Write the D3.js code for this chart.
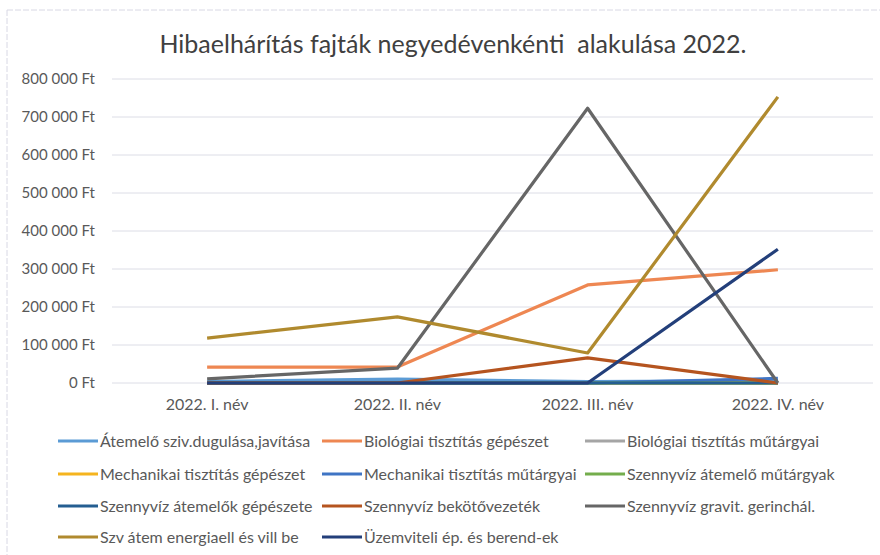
<!DOCTYPE html>
<html><head><meta charset="utf-8">
<script src="https://cdn.jsdelivr.net/npm/d3@7"></script>
<style>body{margin:0;background:#fff}svg{display:block}</style>
</head><body>
<svg id="c" width="880" height="555"></svg>
<script>
const title = "Hibaelhárítás fajták negyedévenkénti  alakulása 2022.";
const categories = ["2022. I. név","2022. II. név","2022. III. név","2022. IV. név"];
const yTicks = [0,100000,200000,300000,400000,500000,600000,700000,800000];
const seriesNames = [
  "Átemelő sziv.dugulása,javítása",
  "Biológiai tisztítás gépészet",
  "Biológiai tisztítás műtárgyai",
  "Mechanikai tisztítás gépészet",
  "Mechanikai tisztítás műtárgyai",
  "Szennyvíz átemelő műtárgyak",
  "Szennyvíz átemelők gépészete",
  "Szennyvíz bekötővezeték",
  "Szennyvíz gravit. gerinchál.",
  "Szv átem energiaell és vill be",
  "Üzemviteli ép. és berend-ek"
];
const s01 = [4000, 10000, 4000, 6000];
const s02 = [42000, 42000, 258000, 298000];
const s03 = [0, 0, 0, 0];
const s04 = [0, 0, 0, 0];
const s05 = [0, 0, 0, 12000];
const s06 = [0, 0, 0, 0];
const s07 = [0, 0, 0, 0];
const s08 = [0, 0, 66000, 0];
const s09 = [11000, 39000, 723000, 0];
const s10 = [118000, 174000, 79000, 753000];
const s11 = [0, 0, 0, 352000];
const seriesValues = [s01,s02,s03,s04,s05,s06,s07,s08,s09,s10,s11];
const colors = ["#5B9BD5","#EE8752","#A5A5A5","#F5B41E","#3F74C4","#74AD4C","#245E91","#B5541F","#666666","#B08A2E","#233F7A"];

const svg = d3.select("#c");
const font = "Lato, 'Open Sans', sans-serif";

// faint scanned border
svg.append("line").attr("x1",7).attr("x2",880).attr("y1",10).attr("y2",10)
  .attr("stroke","#d8d8e4").attr("stroke-width",1).attr("stroke-dasharray","6,2");
svg.append("line").attr("x1",7).attr("x2",7).attr("y1",10).attr("y2",555)
  .attr("stroke","#d8d8e4").attr("stroke-width",1).attr("stroke-dasharray","6,2");

const x = d3.scaleBand().domain(categories).range([112, 873]);
const y = d3.scaleLinear().domain([0, 800000]).range([383, 79]);

// gridlines
svg.append("g").selectAll("line").data(yTicks).join("line")
  .attr("x1",112).attr("x2",873)
  .attr("y1",d=>y(d)).attr("y2",d=>y(d))
  .attr("stroke","#dcdde6").attr("stroke-width",1);

// y axis
const fmt = d => d3.format(",")(d).replace(/,/g," ") + " Ft";
const yAxis = svg.append("g").attr("transform","translate(112,0)")
  .call(d3.axisLeft(y).tickValues(yTicks).tickFormat(fmt).tickSize(0).tickPadding(17));
yAxis.select(".domain").remove();
yAxis.selectAll("text").attr("font-family",font).attr("font-size","15px").attr("fill","#595959");

// x axis
const xAxis = svg.append("g").attr("transform","translate(0,383)")
  .call(d3.axisBottom(x).tickSize(0).tickPadding(16));
xAxis.select(".domain").remove();
xAxis.selectAll("text").attr("font-family",font).attr("font-size","16px").attr("fill","#595959");

// lines
const line = d3.line().x((d,i)=>x(categories[i]) + x.bandwidth()/2).y(d=>y(d));
svg.append("g").selectAll("path").data(seriesValues).join("path")
  .attr("d", d=>line(d)).attr("fill","none")
  .attr("stroke",(d,i)=>colors[i]).attr("stroke-width",3.2)
  .attr("stroke-linejoin","round");

// title
svg.append("text").attr("x",453).attr("y",53).attr("text-anchor","middle")
  .attr("font-family",font).attr("font-size","25px").attr("fill","#404040")
  .attr("xml:space","preserve").text(title);

// legend
const colX = [58, 322, 585];
const rowY = [441, 474, 506, 537];
const leg = svg.append("g").selectAll("g").data(seriesNames).join("g")
  .attr("transform",(d,i)=>`translate(${colX[i%3]},${rowY[Math.floor(i/3)]})`);
leg.append("line").attr("x1",0).attr("x2",40).attr("y1",0).attr("y2",0)
  .attr("stroke",(d,i)=>colors[i]).attr("stroke-width",3.2);
leg.append("text").attr("x",42).attr("y",0).attr("dy","0.35em")
  .attr("font-family",font).attr("font-size","16px").attr("fill","#595959").text(d=>d);
</script>
</body></html>
